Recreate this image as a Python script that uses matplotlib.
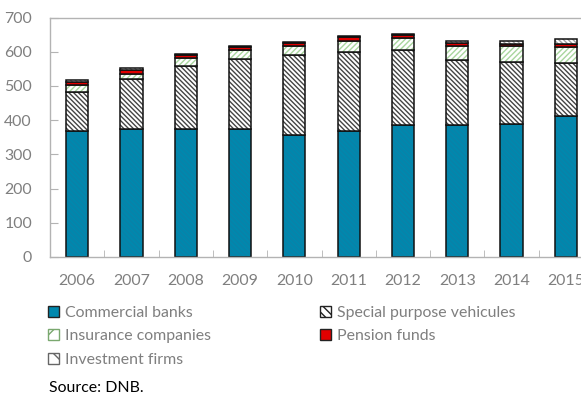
import matplotlib
matplotlib.use('Agg')

import matplotlib.pyplot as plt
import numpy as np
from matplotlib.patches import Patch

plt.rcParams['font.family'] = ['Lato', 'DejaVu Sans']
plt.rcParams['hatch.linewidth'] = 1.0

years = ['2006', '2007', '2008', '2009', '2010', '2011', '2012', '2013', '2014', '2015']

# EUR billion, stacked from bottom to top
commercial_banks = [369, 373, 373, 374, 358, 369, 386, 385, 388, 412]
spv = [112, 146, 186, 206, 233, 231, 220, 192, 182, 154]
insurance = [23, 16, 23, 25, 27, 31, 33, 41, 46, 49]
pension_funds = [8, 13, 9, 10, 7, 11, 9, 8, 8, 8]
investment_firms = [5, 3, 2, 3, 4, 3, 3, 6, 6, 15]

blue = '#0088ae'
red = '#e00000'
grey_txt = '#7f7f7f'
fs = 11.4

fig = plt.figure(figsize=(5.81, 3.94), dpi=100)
# plot area runs past the right edge of the figure
ax = fig.add_axes([50 / 581, 137 / 394, 543 / 581, 239.5 / 394])

x = np.arange(len(years))
w = 0.41
bottom = np.zeros(len(years))

dense_back = '\\' * 7
dense_fwd = '/' * 6

# (values, face colour, hatch, hatch colour)
series = [
    (commercial_banks, blue, dense_back, '#0a82a8'),
    (spv, 'white', dense_back, '#444444'),
    (insurance, 'white', dense_fwd, '#a8d69e'),
    (pension_funds, red, None, red),
    (investment_firms, 'white', dense_back, '#a0a0a0'),
]

for vals, fill, hatch, hcol in series:
    vals = np.array(vals, dtype=float)
    ax.bar(x, vals, w, bottom=bottom, color=fill, hatch=hatch,
           edgecolor=hcol, linewidth=0)
    # outline drawn separately so hatching colour can differ
    ax.bar(x, vals, w, bottom=bottom, fill=False, edgecolor='#111111', linewidth=1.1)
    bottom += vals

ax.set_xlim(-0.5, len(years) - 0.5)
ax.set_ylim(0, 700)
ax.set_yticks(range(0, 701, 100))
ax.set_xticks(x)
ax.set_xticklabels(years)
ax.set_xticks(np.arange(-0.5, len(years), 1.0), minor=True)

for side in ['left', 'bottom', 'top']:
    ax.spines[side].set_color('#b3b3b3')
    ax.spines[side].set_linewidth(1.0)
ax.spines['right'].set_visible(False)

ax.tick_params(axis='y', direction='in', length=6, color='#b3b3b3',
               labelcolor=grey_txt, labelsize=fs, pad=13)
ax.tick_params(axis='x', which='major', length=0, labelcolor=grey_txt,
               labelsize=fs, pad=12)
ax.tick_params(axis='x', which='minor', direction='in', length=5, color='#b3b3b3')

h_cb = Patch(facecolor=blue, edgecolor='#222222', linewidth=1)
h_spv = Patch(facecolor='white', edgecolor='#222222', hatch='\\\\\\\\', linewidth=1)
h_ins = Patch(facecolor='white', edgecolor='#7aa86f', hatch='//', linewidth=1)
h_pf = Patch(facecolor=red, edgecolor='#222222', linewidth=1)
h_if = Patch(facecolor='white', edgecolor='#666666', hatch='\\', linewidth=1)

leg_kw = dict(frameon=False, handlelength=0.7, handleheight=0.7, handletextpad=0.35,
              labelspacing=0.58, fontsize=fs, labelcolor=grey_txt, borderpad=0,
              borderaxespad=0, loc='upper left')
leg1 = fig.legend([h_cb, h_ins, h_if],
                  ['Commercial banks', 'Insurance companies', 'Investment firms'],
                  bbox_to_anchor=(48 / 581, 1 - 306 / 394), **leg_kw)
leg2 = fig.legend([h_spv, h_pf], ['Special purpose vehicules', 'Pension funds'],
                  bbox_to_anchor=(320 / 581, 1 - 306 / 394), **leg_kw)

fig.text(49 / 581, 1 - 388 / 394, 'Source: DNB.', fontsize=fs, color='black',
         va='center', ha='left')

fig.savefig('out.png', dpi=100)
